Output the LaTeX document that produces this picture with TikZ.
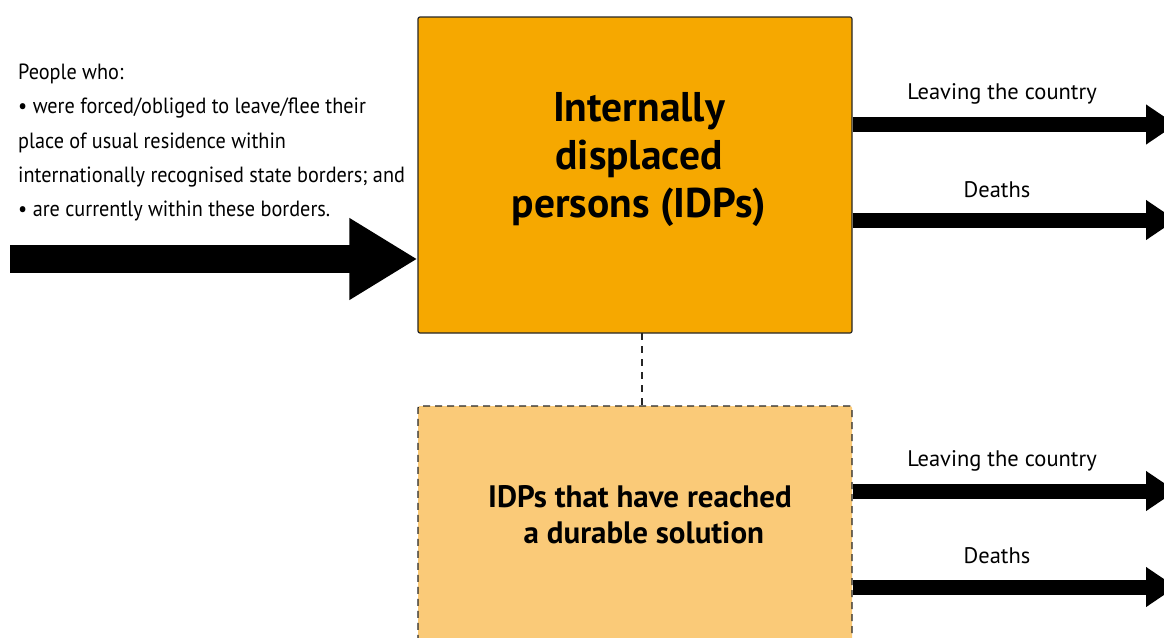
\documentclass[tikz,border=0pt]{standalone}
\usepackage{fontspec}
\setmainfont{PT Sans}
\newfontfamily\condfont[FakeStretch=0.92]{PT Sans}
\usetikzlibrary{arrows.meta}
\definecolor{idpfill}{HTML}{F6A800}
\definecolor{durfill}{HTML}{FACA78}
\tikzset{
  boxshape/.style={rectangle, rounded corners=2pt, inner sep=0pt, line width=1.2pt},
  bigarrow/.style={line width=28pt, -{Triangle[length=68pt,width=77pt]}},
  outarrow/.style={line width=15pt, -{Triangle[length=30pt,width=38pt]}},
  outlabel/.style={font=\fontsize{22.5}{26}\selectfont, inner sep=0pt},
}
\begin{document}
\begin{tikzpicture}[x=1pt,y=-1pt]
\useasboundingbox (0,0) rectangle (1164,637);
\clip (0,0) rectangle (1164,637);
% boxes
\node[boxshape, draw=black!85, fill=idpfill, minimum width=434pt, minimum height=316pt] (idp) at (635,175) {};
\node[boxshape, draw=black!85, dash pattern=on 7pt off 5pt, line width=1.3pt, fill=durfill, minimum width=434pt, minimum height=300pt] (dur) at (635,556) {};
% texts in boxes
\node[font=\fontsize{41.5}{48}\selectfont\bfseries, align=center, inner sep=0pt] (idptext) at (639,160) {Internally\\displaced\\persons (IDPs)};
\node[font=\fontsize{31}{36}\selectfont\bfseries, align=center, inner sep=0pt] (durtext) at (640,515) {IDPs that have reached\\\ a durable solution};
% dashed link
\coordinate (dtop) at (642,333);
\coordinate (dbot) at (642,406);
\draw[line width=1.3pt, dash pattern=on 7pt off 6pt, black!85] (dtop) -- (dbot);
% input
\node[anchor=north west, align=left, inner sep=0pt, font=\condfont\fontsize{22}{34.2}\selectfont] (defn) at (18,64)
  {People who:\\
   • were forced/obliged to leave/flee their\\
   place of usual residence within\\
   internationally recognised state borders; and\\
   • are currently within these borders.};
\coordinate (instart) at (10,259);
\draw[bigarrow] (instart) -- (idp.west |- instart);
% outputs from idp
\coordinate (o1) at (1176,124.5);
\coordinate (o2) at (1176,220);
\draw[outarrow] (idp.east |- o1) -- (o1);
\draw[outarrow] (idp.east |- o2) -- (o2);
\node[outlabel] (l1) at (1002,94) {Leaving the country};
\node[outlabel] (l2) at (997,190) {Deaths};
% outputs from durable
\coordinate (o3) at (1176,491);
\coordinate (o4) at (1176,587);
\draw[outarrow] (dur.east |- o3) -- (o3);
\draw[outarrow] (dur.east |- o4) -- (o4);
\node[outlabel] (l3) at (1002,461) {Leaving the country};
\node[outlabel] (l4) at (997,556) {Deaths};
\end{tikzpicture}
\end{document}
